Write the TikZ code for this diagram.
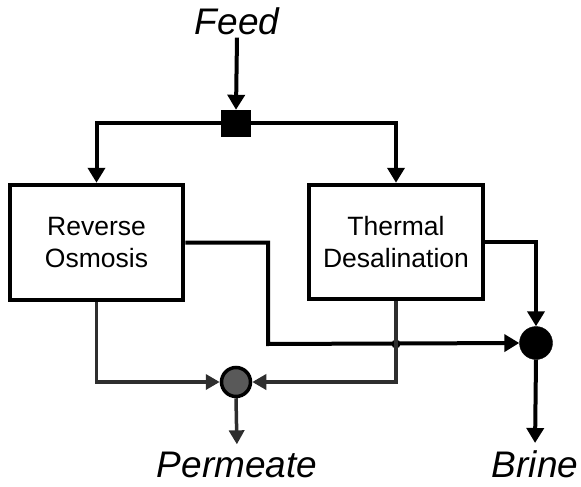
\documentclass[tikz,border=0pt]{standalone}
\usepackage{fontspec}
\setmainfont{Liberation Sans}
\usetikzlibrary{arrows.meta}
\begin{document}
\begin{tikzpicture}[x=1pt,y=-1pt,
  procbox/.style={draw=black, line width=4.5pt, fill=white, align=center,
    font=\fontsize{26.5}{32}\selectfont, inner sep=0pt},
  lbl/.style={font=\fontsize{37}{42}\selectfont\itshape, inner sep=2pt},
  arr/.style={line width=4pt, draw=black, -{Triangle[length=15pt,width=17pt]}},
  garr/.style={line width=3.5pt, draw=black!82, -{Triangle[length=14pt,width=15pt]}}]
\useasboundingbox (0,0) rectangle (581,487);
\node[procbox, minimum width=173pt, minimum height=115pt] (ro) at (96.5,242.5) {Reverse\\Osmosis};
\node[procbox, minimum width=174pt, minimum height=114pt] (td) at (396,242) {Thermal\\Desalination};
\node[draw=black, fill=black, minimum width=29pt, minimum height=26pt, inner sep=0pt] (sq) at (236,123) {};
\node[circle, draw=black, fill=black, minimum size=33pt, inner sep=0pt] (bc) at (536,343) {};
\node[circle, draw=black, line width=3.5pt, fill=black!65, minimum size=29pt, inner sep=0pt] (pc) at (236,382) {};
\node[lbl, anchor=base] (feed) at (237,35) {Feed};
\node[lbl, anchor=base] (brine) at (535,477) {Brine};
\node[lbl, anchor=base] (perm) at (237,477) {Permeate};
\coordinate (c1) at (268,344);
\node[circle, fill=black, minimum size=9pt, inner sep=0pt] (jd) at (td.south |- c1) {};
\draw[arr] (feed.south) -- (sq.north);
\draw[arr] (sq.west) -| (ro.north);
\draw[arr] (sq.east) -| (td.north);
\draw[arr] (ro.east) -| (c1) -- (bc.west);
\draw[arr] (td.east) -| (bc.north);
\draw[arr, shorten >=5pt] (bc.south) -- (brine.north);
\draw[garr] (ro.south) |- (pc.west);
\draw[garr] (td.south) |- (pc.east);
\draw[garr, shorten >=5pt] (pc.south) -- (perm.north);
\end{tikzpicture}
\end{document}
